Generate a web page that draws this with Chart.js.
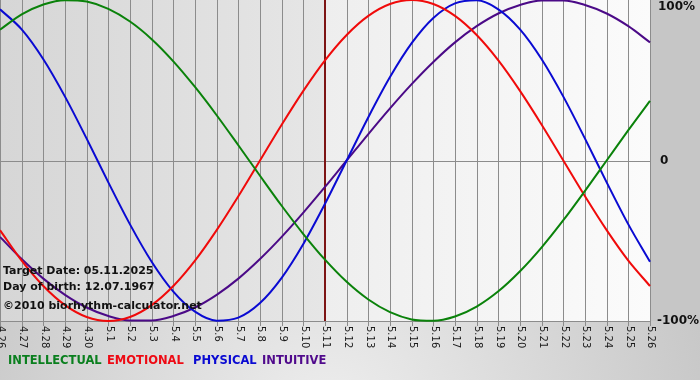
<!DOCTYPE html>
<html>
<head>
<meta charset="utf-8">
<script src="https://cdn.jsdelivr.net/npm/chart.js@4"></script>
<style>
    html, body { margin: 0; padding: 0; }
    #wrap { width: 700px; height: 380px; }
</style>
</head>
<body>
<div id="wrap"><canvas id="bioChart" width="700" height="380"></canvas></div>
<script>
// days shown (month.day)
const days = ['4.26', '4.27', '4.28', '4.29', '4.30', '5.1', '5.2', '5.3', '5.4', '5.5', '5.6', '5.7', '5.8',
    '5.9', '5.10', '5.11', '5.12', '5.13', '5.14', '5.15', '5.16', '5.17', '5.18', '5.19', '5.20', '5.21',
    '5.22', '5.23', '5.24', '5.25', '5.26'];
const targetDay = '5.11';

// values in percent
const intellectual = [81.5, 91.0, 97.2, 99.9, 99.0, 94.5, 86.6, 75.6, 61.8, 45.8, 28.2, 9.5, -9.5, -28.2,
    -45.8, -61.8, -75.6, -86.6, -94.5, -99.0, -99.9, -97.2, -91.0, -81.5, -69.0, -54.1, -37.2, -18.9, 0, 18.9, 37.2];
const emotional = [-43.4, -62.4, -78.2, -90.1, -97.5, -100, -97.5, -90.1, -78.2, -62.4, -43.4, -22.3, 0, 22.3,
    43.4, 62.4, 78.2, 90.1, 97.5, 100, 97.5, 90.1, 78.2, 62.4, 43.4, 22.3, 0, -22.3, -43.4, -62.4, -78.2];
const physical = [94.2, 81.7, 63.1, 39.8, 13.6, -13.6, -39.8, -63.1, -81.7, -94.2, -99.8, -97.9, -88.8, -73.1,
    -52.0, -27.0, 0, 27.0, 52.0, 73.1, 88.8, 97.9, 99.8, 94.2, 81.7, 63.1, 39.8, 13.6, -13.6, -39.8, -63.1];
const intuitive = [-47.6, -61.4, -73.6, -83.7, -91.6, -96.9, -99.7, -99.7, -96.9, -91.6, -83.7, -73.6, -61.4,
    -47.6, -32.5, -16.5, 0, 16.5, 32.5, 47.6, 61.4, 73.6, 83.7, 91.6, 96.9, 99.7, 99.7, 96.9, 91.6, 83.7, 73.6];

const yTicks = [100, 0, -100];
const yTickLabels = ['100%', '0', '-100%'];
const legendItems = [
    { text: 'INTELLECTUAL', color: '#0a7f1e' },
    { text: 'EMOTIONAL', color: '#ee0a14' },
    { text: 'PHYSICAL', color: '#0a0ad2' },
    { text: 'INTUITIVE', color: '#500a8c' }
];
const legendX = [8, 107, 193, 262];
const infoLines = ['Target Date: 05.11.2025', 'Day of birth: 12.07.1967', '\u00a92010 biorhythm-calculator.net'];

// background, grid, labels around the plot
const framePlugin = {
    id: 'frame',
    beforeDraw(chart) {
        const c = chart.ctx;
        const a = chart.chartArea;
        const x = chart.scales.x;
        const W = chart.width, H = chart.height;
        c.save();
        // outer background
        c.fillStyle = '#c6c6c6';
        c.fillRect(0, 0, W, H);
        const rg = c.createRadialGradient(330, 420, 20, 330, 420, 420);
        rg.addColorStop(0, '#ececec');
        rg.addColorStop(1, '#c4c4c4');
        c.fillStyle = rg;
        c.fillRect(0, a.bottom, W, H - a.bottom);

        // plot background: past part darker, future part lighter
        const tx = x.getPixelForValue(days.indexOf(targetDay));
        const g1 = c.createLinearGradient(a.left, 0, tx, 0);
        g1.addColorStop(0, '#d6d6d6');
        g1.addColorStop(1, '#e6e6e6');
        c.fillStyle = g1;
        c.fillRect(a.left, a.top, tx - a.left, a.bottom - a.top);
        const g2 = c.createLinearGradient(tx, 0, a.right, 0);
        g2.addColorStop(0, '#eeeeee');
        g2.addColorStop(1, '#fbfbfb');
        c.fillStyle = g2;
        c.fillRect(tx, a.top, a.right - tx, a.bottom - a.top);

        // vertical grid + tick marks
        c.strokeStyle = '#8c8c8c';
        c.lineWidth = 1;
        days.forEach((d, i) => {
            const px = Math.round(x.getPixelForValue(i)) + 0.5;
            c.beginPath();
            c.moveTo(px, a.top);
            c.lineTo(px, a.bottom + 5);
            c.stroke();
        });
        // zero line and bottom line
        const y = chart.scales.y;
        [0, -100].forEach(v => {
            const py = Math.round(y.getPixelForValue(v)) + 0.5;
            c.beginPath();
            c.moveTo(a.left, py);
            c.lineTo(a.right, py);
            c.stroke();
        });

        // target day marker
        c.strokeStyle = '#7d1414';
        c.lineWidth = 2;
        c.beginPath();
        c.moveTo(tx, a.top);
        c.lineTo(tx, a.bottom);
        c.stroke();

        // x labels, rotated clockwise
        c.fillStyle = '#1a1a1a';
        c.font = '10px "DejaVu Sans"';
        c.textAlign = 'left';
        c.textBaseline = 'middle';
        days.forEach((d, i) => {
            c.save();
            c.translate(x.getPixelForValue(i) + 1, a.bottom + 5);
            c.rotate(Math.PI / 2);
            c.fillText(d, 0, 0);
            c.restore();
        });

        // right axis labels
        c.fillStyle = '#111';
        c.font = 'bold 12px "DejaVu Sans"';
        yTicks.forEach((v, i) => {
            let py = y.getPixelForValue(v);
            if (v === 100) py += 7;
            c.fillText(yTickLabels[i], a.right + (v < 0 ? 7 : (v === 0 ? 10 : 8)), py);
        });

        // legend
        c.font = 'bold 11.5px "DejaVu Sans"';
        legendItems.forEach((item, i) => {
            c.fillStyle = item.color;
            c.fillText(item.text, legendX[i], 361);
        });
        c.restore();
    },
    afterDatasetsDraw(chart) {
        const c = chart.ctx;
        c.save();
        c.fillStyle = '#111';
        c.font = 'bold 11px "DejaVu Sans"';
        c.textAlign = 'left';
        c.textBaseline = 'middle';
        c.fillText(infoLines[0], 3, 271);
        c.fillText(infoLines[1], 3, 287);
        c.fillText(infoLines[2], 3, 306);
        c.restore();
    }
};

const ctx = document.getElementById('bioChart').getContext('2d');
new Chart(ctx, {
    type: 'line',
    data: {
        labels: days,
        datasets: [
            { label: 'INTELLECTUAL', data: intellectual, borderColor: '#0a820a' },
            { label: 'EMOTIONAL', data: emotional, borderColor: '#f00a0a' },
            { label: 'PHYSICAL', data: physical, borderColor: '#0a0ad2' },
            { label: 'INTUITIVE', data: intuitive, borderColor: '#4b0a87' }
        ]
    },
    options: {
        responsive: false,
        animation: false,
        layout: {
            padding: { left: 0, top: 0, right: 50, bottom: 59 }
        },
        elements: {
            point: { radius: 0 },
            line: { borderWidth: 2, tension: 0.4, cubicInterpolationMode: 'monotone' }
        },
        datasets: {
            line: { clip: false }
        },
        plugins: {
            legend: { display: false },
            tooltip: { enabled: false }
        },
        scales: {
            x: { display: false },
            y: { display: false, min: -100, max: 100 }
        }
    },
    plugins: [framePlugin]
});
</script>
</body>
</html>
